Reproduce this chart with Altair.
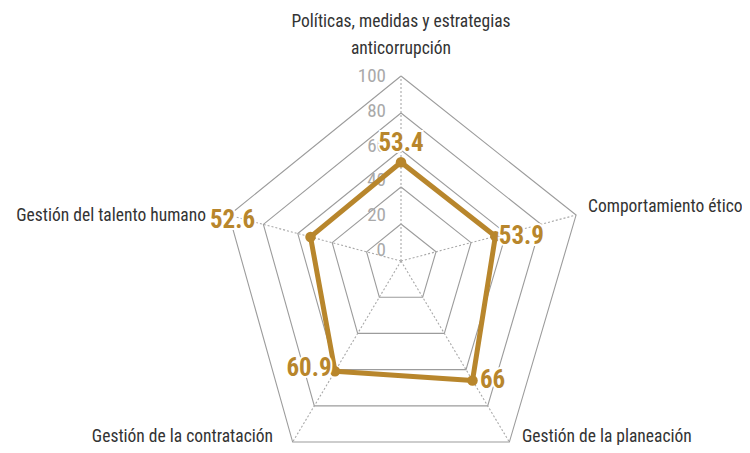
import altair as alt
import pandas as pd

# ---------------- data ----------------
categories = [
    "Políticas, medidas y estrategias\nanticorrupción",
    "Comportamiento ético",
    "Gestión de la planeación",
    "Gestión de la contratación",
    "Gestión del talento humano",
]
values = [53.4, 53.9, 66.0, 60.9, 52.6]
value_labels = ["53.4", "53.9", "66", "60.9", "52.6"]
ticks = [0, 20, 40, 60, 80, 100]
ring_levels = [20, 40, 60, 80, 100]

# ---------------- layout ----------------
W, H = 734, 437
CX, CY = 393, 253
axis_angle = [0, 75.3, 149.1, 210.9, 284.9]
axis_length = [185, 181, 211, 211, 178]
label_dx = [0, 26, 20, -26, -78]
label_dy = [-19, 0, 0, -3, -17]
cat_x = [393, 580, 514, 265, 198]
cat_y = [14, 199, 428.5, 428.5, 208]
cat_align = ["center", "left", "left", "right", "right"]
tick_x = CX - 15
tick_base_y = CY - 11
tick_step = 1.74

GOLD = "#B8862C"
GRID = "#9c9c9c"
NARROW = "Liberation Sans Narrow, Roboto Condensed, DejaVu Sans Condensed, sans-serif"

xs = alt.Scale(domain=[0, W], nice=False, zero=False)
ys = alt.Scale(domain=[0, H], nice=False, zero=False, reverse=True)

def X(f):
    return alt.X(f + ":Q", scale=xs, axis=None)

def Y(f):
    return alt.Y(f + ":Q", scale=ys, axis=None)

geo_x = f"{CX} + datum.level/100*datum.L*sin(datum.ang*PI/180)"
geo_y = f"{CY} - datum.level/100*datum.L*cos(datum.ang*PI/180)"

# rings
ring_rows = []
for lv in ring_levels:
    for k in range(6):
        i = k % 5
        ring_rows.append({"level": lv, "order": k, "ang": axis_angle[i], "L": axis_length[i]})
ring_df = pd.DataFrame(ring_rows)

rings = alt.Chart(ring_df).transform_calculate(
    x=geo_x, y=geo_y
).mark_line(color=GRID, strokeWidth=1.1).encode(
    x=X("x"), y=Y("y"), detail="level:N", order="order:Q"
)

# spokes
spoke_df = pd.DataFrame({"ang": axis_angle, "L": axis_length, "level": [100] * 5})
spokes = alt.Chart(spoke_df).transform_calculate(
    x2=geo_x, y2=geo_y, cx=f"{CX}", cy=f"{CY}"
).mark_rule(color="#a8a8a8", strokeWidth=1.1, strokeDash=[2, 2]).encode(
    x=X("cx"), y=Y("cy"), x2="x2:Q", y2="y2:Q"
)

# tick labels
tick_df = pd.DataFrame({"t": ticks, "lab": [str(t) for t in ticks]})
tick_labels = alt.Chart(tick_df).transform_calculate(
    x=f"{tick_x}", y=f"{tick_base_y} - datum.t*{tick_step}"
).mark_text(align="right", baseline="middle", font=NARROW, fontSize=19,
            color="#a9a9a9").encode(x=X("x"), y=Y("y"), text="lab:N")

# data polygon
poly_rows = []
for k in range(6):
    i = k % 5
    poly_rows.append({"order": k, "level": values[i], "ang": axis_angle[i], "L": axis_length[i]})
poly_df = pd.DataFrame(poly_rows)
poly = alt.Chart(poly_df).transform_calculate(
    x=geo_x, y=geo_y
).mark_line(color=GOLD, strokeWidth=5, strokeJoin="round").encode(
    x=X("x"), y=Y("y"), order="order:Q"
)

pt_df = pd.DataFrame({"level": values, "ang": axis_angle, "L": axis_length,
                      "lab": value_labels, "dx": label_dx, "dy": label_dy})
points = alt.Chart(pt_df).transform_calculate(
    x=geo_x, y=geo_y
).mark_circle(color=GOLD, opacity=1, size=110).encode(x=X("x"), y=Y("y"))

lab_base = alt.Chart(pt_df).transform_calculate(
    x=geo_x + " + datum.dx", y=geo_y + " + datum.dy"
)
val_halo = lab_base.mark_text(align="center", baseline="middle", font=NARROW,
                              fontWeight="bold", fontSize=25, color="white",
                              stroke="white", strokeWidth=4).encode(
    x=X("x"), y=Y("y"), text="lab:N")
val_text = lab_base.mark_text(align="center", baseline="middle", font=NARROW,
                              fontWeight="bold", fontSize=25, color=GOLD).encode(
    x=X("x"), y=Y("y"), text="lab:N")

# category labels
cat_df = pd.DataFrame({"cat": categories, "x": cat_x, "y": cat_y, "al": cat_align})
cat_layers = []
for al in ["center", "left", "right"]:
    cat_layers.append(
        alt.Chart(cat_df).transform_filter(f"datum.al == '{al}'").mark_text(
            align=al, baseline="middle", font=NARROW, fontSize=17.5, color="#333333",
            lineBreak="\n", lineHeight=27
        ).encode(x=X("x"), y=Y("y"), text="cat:N")
    )

chart = alt.layer(rings, spokes, tick_labels, poly, points, val_halo, val_text,
                  *cat_layers).properties(
    width=W, height=H, padding=0, autosize="none"
).configure_view(stroke=None)

chart.save("out.html", embed_options={"renderer": "svg", "actions": False})
